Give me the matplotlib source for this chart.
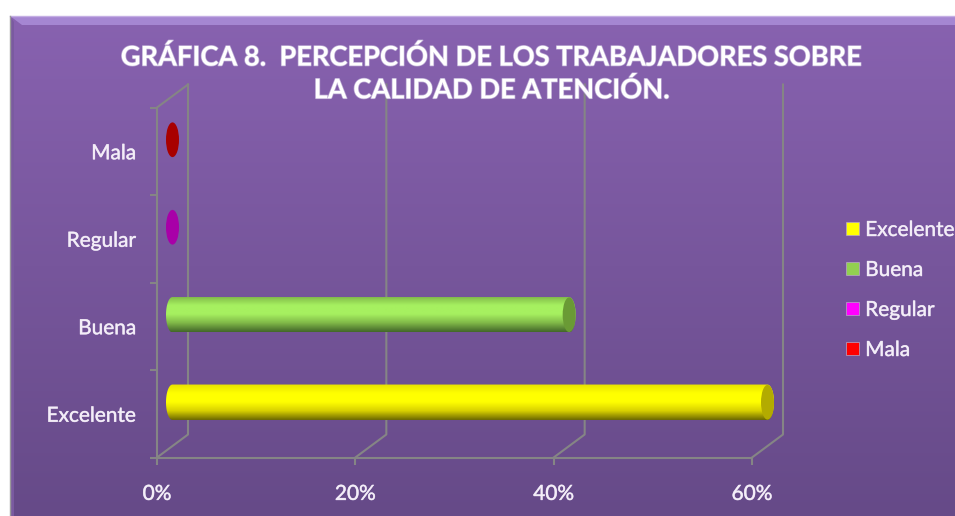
import matplotlib
matplotlib.use('Agg')
import matplotlib.pyplot as plt
import matplotlib.patches as mpatches
import matplotlib.patheffects as pe
from matplotlib.colors import LinearSegmentedColormap
import numpy as np

plt.rcParams['font.family'] = ['Lato', 'DejaVu Sans']

categorias = ['Excelente', 'Buena', 'Regular', 'Mala']
valores = [60, 40, 0, 0]
ticks_x = [0, 20, 40, 60]
titulo = 'GRÁFICA 8.  PERCEPCIÓN DE LOS TRABAJADORES SOBRE\nLA CALIDAD DE ATENCIÓN.'

colores_leyenda = ['#FFFF00', '#92D050', '#FF00FF', '#FF0000']
colores_tapa = ['#B3AB00', '#6A9A35', '#A800A8', '#A80000']
# sombra, color, brillo, color, sombra para el cilindro
colores_cil = [
    ['#E8E000', '#FFFF00', '#FFFF00', '#D8D000', '#6E6A00'],
    ['#7FB848', '#A6F060', '#A6F060', '#80B848', '#44682A'],
    ['#AA00AA', '#AA00AA', '#AA00AA', '#AA00AA', '#AA00AA'],
    ['#A80000', '#A80000', '#A80000', '#A80000', '#A80000'],
]

W, H = 955, 516
GRIS = '#858585'
TEXTO = '#F4EEF8'
brillo = [pe.withStroke(linewidth=0.4, foreground='#D8CCE6')]

fig = plt.figure(figsize=(W / 100, H / 100), dpi=100, facecolor='white')

# ------------------------------------------------------------
# Fondo del cuadro (pixeles)
# ------------------------------------------------------------
bg = fig.add_axes([0, 0, 1, 1])
bg.axis('off')
cmap_bg = LinearSegmentedColormap.from_list('fondo', ['#8862B0', '#664A88'])
bg.imshow(np.linspace(0, 1, 256).reshape(-1, 1), cmap=cmap_bg, aspect='auto',
          extent=[11, W, H, 16], zorder=1)
bg.set_xlim(0, W)
bg.set_ylim(H, 0)
bg.add_patch(mpatches.Polygon([(10, 16), (W, 16), (W, 25), (22, 25)],
                              closed=True, facecolor='#A586D2', edgecolor='none', zorder=2))
bg.add_patch(mpatches.Polygon([(10, 16), (14, 22), (14, H), (10, H)],
                              closed=True, facecolor='#7A5AA0', edgecolor='none', zorder=2))
bg.plot([10, W], [16, 16], color='#C4AEE4', lw=1, zorder=3)
bg.plot([10, 10], [16, H], color='#9A9A9A', lw=1, zorder=3)

# ------------------------------------------------------------
# Ejes principales
# ------------------------------------------------------------
x0, x1, y0, y1 = 157, 752, 457.5, 107.5
ax = fig.add_axes([x0 / W, 1 - y0 / H, (x1 - x0) / W, (y0 - y1) / H])
ax.patch.set_alpha(0)
ax.set_xlim(0, 60)
ax.set_ylim(0, 4)

# profundidad 3D en unidades de datos
prof_x = 31 / (x1 - x0) * 60
prof_y = 23 / (y0 - y1) * 4

for s in ['top', 'right']:
    ax.spines[s].set_visible(False)
for s in ['left', 'bottom']:
    ax.spines[s].set_color(GRIS)
    ax.spines[s].set_linewidth(1.5)

ax.set_xticks(ticks_x)
ax.set_xticklabels([f'{t}%' for t in ticks_x], path_effects=brillo)
ax.set_yticks(range(5))
ax.set_yticklabels([])
ax.set_yticks(np.arange(len(categorias)) + 0.5, minor=True)
ax.set_yticklabels(categorias, minor=True, path_effects=brillo)
ax.tick_params(axis='x', length=5, width=1.5, color=GRIS, pad=14, labelsize=15, labelcolor=TEXTO)
ax.tick_params(axis='y', which='major', length=5, width=1.5, color=GRIS)
ax.tick_params(axis='y', which='minor', length=0, pad=15, labelsize=15, labelcolor=TEXTO)

# paredes del grafico 3D
for t in ticks_x:
    ax.plot([t, t + prof_x, t + prof_x], [0, prof_y, 4 + prof_y], color=GRIS, lw=1.5,
            clip_on=False, zorder=2)
ax.plot([0, prof_x], [4, 4 + prof_y], color=GRIS, lw=1.5, clip_on=False, zorder=2)

# ------------------------------------------------------------
# Cilindros
# ------------------------------------------------------------
alto = 0.405
rx = 6.5 / (x1 - x0) * 60
t_ang = np.linspace(-np.pi / 2, np.pi / 2, 40)

for i, (val, col, tapa) in enumerate(zip(valores, colores_cil, colores_tapa)):
    cx0 = prof_x / 2
    cx1 = val + prof_x / 2
    cy = i + 0.5 + prof_y / 2
    if val > 0:
        izq = np.column_stack([cx0 - rx * np.cos(t_ang), cy + alto / 2 * np.sin(t_ang)])
        der = np.column_stack([cx1 + rx * np.cos(t_ang[::-1]), cy + alto / 2 * np.sin(t_ang[::-1])])
        contorno = mpatches.Polygon(np.vstack([izq, der]), closed=True, facecolor='none',
                                    edgecolor='none', transform=ax.transData, clip_on=False)
        ax.add_patch(contorno)
        cm = LinearSegmentedColormap.from_list(f'cil{i}', col)
        im = ax.imshow(np.linspace(0, 1, 64).reshape(-1, 1), cmap=cm, aspect='auto',
                       extent=[cx0 - rx, cx1 + rx, cy - alto / 2, cy + alto / 2], zorder=4,
                       interpolation='bilinear')
        im.set_clip_path(contorno)
        im.set_clip_box(fig.bbox)
    ax.add_patch(mpatches.Ellipse((cx1, cy), 2 * rx, alto * 0.98, facecolor=tapa,
                                  edgecolor='none', zorder=5, clip_on=False))

ax.set_xlim(0, 60)
ax.set_ylim(0, 4)

# ------------------------------------------------------------
# Titulo y leyenda
# ------------------------------------------------------------
fig.text(492 / W, 1 - 73.5 / H, titulo, ha='center', va='center', color='white', fontsize=19.6,
         fontweight='bold', linespacing=1.37,
         path_effects=[pe.withStroke(linewidth=1.0, foreground='#B9A6D2')])

handles = [mpatches.Patch(facecolor=c, edgecolor='#B8A8C8', linewidth=0.5, label=n)
           for c, n in zip(colores_leyenda, categorias)]
ley = fig.legend(handles=handles, loc='upper left', bbox_to_anchor=(846 / W, 1 - 220 / H),
                 frameon=False, fontsize=15, labelcolor=TEXTO, handlelength=0.62, handleheight=0.6,
                 handletextpad=0.3, labelspacing=0.96, borderpad=0, borderaxespad=0)
for txt in ley.get_texts():
    txt.set_path_effects(brillo)

fig.savefig('out.png', dpi=100, facecolor='white')
